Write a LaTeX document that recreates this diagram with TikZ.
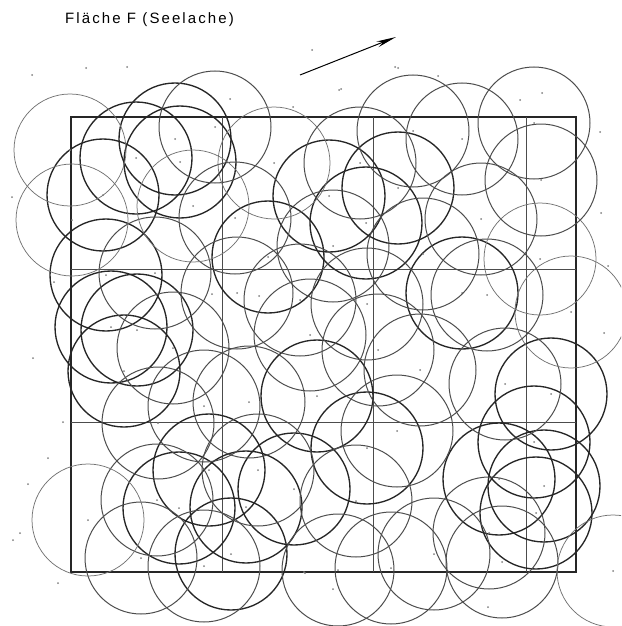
\documentclass[tikz,border=0pt]{standalone}
\usepackage{fontspec}
\setmainfont{Liberation Sans}
\newfontfamily\titlefont[LetterSpace=14]{Liberation Sans}
\usetikzlibrary{arrows.meta}
\tikzset{
  frame/.style={line width=1.5pt, draw=black!85},
  gridline/.style={line width=1.0pt, draw=black!70},
  ringthick/.style={line width=1.35pt, draw=black!85},
  ringmed/.style={line width=1.0pt, draw=black!70},
  ringthin/.style={line width=0.75pt, draw=black!55},
  pt/.style={fill=black!50},
}
\begin{document}
\begin{tikzpicture}[x=1pt,y=-1pt]
\useasboundingbox (0,0) rectangle (621,626);
\clip (0,0) rectangle (621,626);
% frame and grid
\draw[frame] (71,117) rectangle (576,572);
\foreach \gx in {222,373,526} \draw[gridline] (\gx,117) -- (\gx,572);
\foreach \gy in {269,422} \draw[gridline] (71,\gy) -- (576,\gy);
% thick circles
\foreach \cx/\cy in {103/195,136/158,175/139,180/162,268/257,329/196,398/188,366/223,462/293,
  106/275,111/327,137/330,124/371,317/396,209/470,179/508,246/507,294/489,231/554,367/448,
  551/394,534/442,544/486,536/513,499/479}
  {\draw[ringthick] (\cx,\cy) circle[radius=56pt]; \fill[pt] (\cx,\cy) circle[radius=1pt];}
% medium circles
\foreach \cx/\cy in {215/127,235/218,360/163,413/131,462/139,534/123,541/180,333/246,481/219,
  423/254,487/295,155/273,173/348,237/293,300/300,367/304,310/335,378/350,158/423,204/406,
  249/402,157/500,258/470,141/558,204/566,356/501,397/431,420/370,505/384,502/562,434/554,
  391/568,338/570,489/533}
  {\draw[ringmed] (\cx,\cy) circle[radius=56pt]; \fill[pt] (\cx,\cy) circle[radius=1pt];}
% thin circles
\foreach \cx/\cy in {70/150,72/220,193/206,274/163,540/259,571/312,88/520,613/571}
  {\draw[ringthin] (\cx,\cy) circle[radius=56pt]; \fill[pt] (\cx,\cy) circle[radius=1pt];}
% scattered points
\foreach \px/\py in {32/75,86/68,127/67,312/50,341/89,230/99,398/68,438/76,520/100,542/93,
  293/107,600/132,601/213,608/266,604/333,12/197,33/358,63/422,48/458,28/484,20/533,13/540,
  58/583,304/572,305/573,333/589,488/607,395/67,339/90,54/282,212/294,259/296}
  \fill[pt] (\px,\py) circle[radius=1pt];
% north arrow
\coordinate (arrS) at (300,75);
\coordinate (arrE) at (396,37);
\draw[line width=1.0pt, -{Stealth[length=20pt,width=6pt]}] (arrS) -- (arrE);
% title
\node[anchor=west, inner sep=0pt] (title) at (65,20) {\titlefont\fontsize{15}{17}\selectfont Fläche F (Seelache)};
\end{tikzpicture}
\end{document}
